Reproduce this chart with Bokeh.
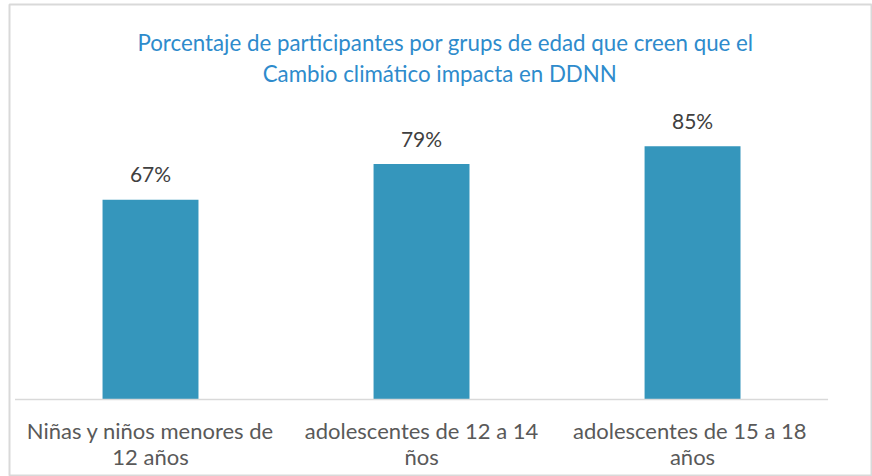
from bokeh.plotting import figure
from bokeh.models import Range1d, ColumnDataSource, Label
from bokeh.core.properties import value
from bokeh.embed import file_html
from bokeh.resources import INLINE

categories = ["Niñas y niños menores de\n12 años", "adolescentes de 12 a 14\nños", "adolescentes  de 15 a 18\naños"]
values = [67, 79, 85]
value_labels = ["67%", "79%", "85%"]
title_lines = ["Porcentaje de participantes por grups de edad que creen que el",
               "Cambio climático impacta  en  DDNN"]

W, H = 872, 476
xs = [i + 0.5 for i in range(len(categories))]
line1 = [c.split("\n")[0] for c in categories]
line2 = [c.split("\n")[1] for c in categories]
src = ColumnDataSource(dict(x=xs, top=values, lab=value_labels, l1=line1, l2=line2))

p = figure(width=W, height=H, output_backend="svg", toolbar_location=None,
           x_range=Range1d(-0.0203, 3.164), y_range=Range1d(-25.84, 132.55),
           x_axis_type=None, y_axis_type=None,
           min_border_left=9, min_border_top=4, min_border_right=0, min_border_bottom=0)
p.xgrid.visible = False
p.ygrid.visible = False
p.outline_line_color = "#D9D9D9"
p.outline_line_width = 2
p.background_fill_color = "white"
p.border_fill_color = "white"

p.vbar(x="x", top="top", bottom=0, width=0.354, source=src, fill_color="#3596BC", line_color=None)
p.segment(x0=[0], y0=[0], x1=[len(categories)], y1=[0], line_color="#D9D9D9", line_width=1.5)

p.text(x="x", y="top", text="lab", source=src, text_align="center", text_baseline="alphabetic",
       y_offset=-26, text_font=value("Lato"), text_font_size="21px", text_color="#404040")
p.text(x="x", y=0, text="l1", source=src, text_align="center", text_baseline="alphabetic",
       y_offset=31, text_font=value("Lato"), text_font_size="22px", text_color="#595959")
p.text(x="x", y=0, text="l2", source=src, text_align="center", text_baseline="alphabetic",
       y_offset=57, text_font=value("Lato"), text_font_size="22px", text_color="#595959")

for i, t in enumerate(title_lines):
    p.add_layout(Label(x=436, y=H - 42 - i * 31, x_units="screen", y_units="screen", text=t,
                       text_align="center", text_baseline="alphabetic", text_font="Lato",
                       text_font_size="22.3px", text_color="#2E8BCC"))

open("out.html", "w").write(file_html(p, INLINE))
